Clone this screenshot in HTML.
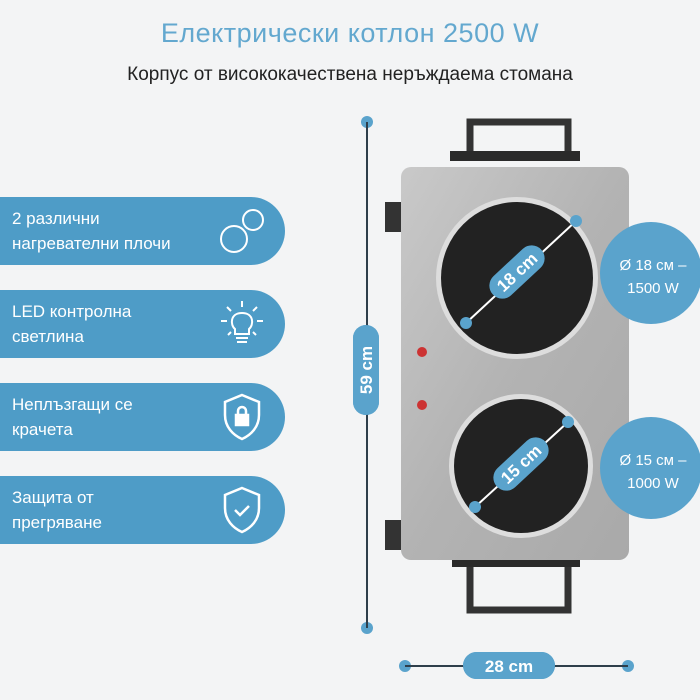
<!DOCTYPE html><html><head><meta charset="utf-8"><style>
body{margin:0;width:700px;height:700px;background:#f3f4f5;font-family:"Liberation Sans","DejaVu Sans",sans-serif;position:relative;overflow:hidden}
.t{position:absolute;left:0;width:700px;text-align:center}
.p{position:absolute;left:0;width:285px;height:68px;background:#4e9cc7;border-radius:0 34px 34px 0;color:#fff;font-size:17px;line-height:25px;box-sizing:border-box;padding:9px 0 0 12px}
.p svg{position:absolute;right:18px;top:9px}
</style></head><body>
<div class="t" style="top:18px;font-size:27px;color:#63a8cf;letter-spacing:0.5px">Електрически котлон 2500 W</div>
<div class="t" style="top:64px;font-size:19px;color:#222">Корпус от висококачествена неръждаема стомана</div>
<div class="p" style="top:197px">2 различни<br>нагревателни плочи<svg width="50" height="50" viewBox="0 0 50 50" fill="none" stroke="#fff" stroke-width="2"><circle cx="17" cy="33" r="13"/><circle cx="36" cy="14" r="10"/></svg></div>
<div class="p" style="top:290px">LED контролна<br>светлина<svg width="50" height="50" viewBox="0 0 50 50" fill="none" stroke="#fff" stroke-width="2"><path d="M18 30c-5-4-5-16 7-16s12 12 7 16v5H18z"/><path d="M19 39h12M20 43h10M25 2v6M10 8l4 4M40 8l-4 4M4 22h6M40 22h6M11 36l3-3M39 36l-3-3"/></svg></div>
<div class="p" style="top:383px">Неплъзгащи се<br>крачета<svg width="50" height="50" viewBox="0 0 50 50" fill="none" stroke="#fff" stroke-width="2.5"><path d="M25 3l17 7v13c0 12-8 20-17 24C16 43 8 35 8 23V10z"/><rect x="19" y="23" width="12" height="10" fill="#fff"/><path d="M21 23v-4a4 4 0 0 1 8 0v4"/></svg></div>
<div class="p" style="top:476px">Защита от<br>прегряване<svg width="50" height="50" viewBox="0 0 50 50" fill="none" stroke="#fff" stroke-width="2.5"><path d="M25 3l17 7v13c0 12-8 20-17 24C16 43 8 35 8 23V10z"/><path d="M18 25l5 5 9-9"/></svg></div>
<svg width="700" height="700" style="position:absolute;left:0;top:0">
<g fill="none" stroke="#333" stroke-width="7"><path d="M470 155V122h98v33"/><path d="M470 560v50h98v-50"/></g>
<rect x="450" y="151" width="130" height="10" fill="#2a2a2a"/><rect x="452" y="557" width="128" height="10" fill="#2a2a2a"/>
<rect x="385" y="202" width="20" height="30" fill="#333"/><rect x="385" y="520" width="20" height="30" fill="#333"/>
<defs><linearGradient id="g" x1="0" x2="1" y1="0" y2="1"><stop offset="0" stop-color="#c9c9c9"/><stop offset=".5" stop-color="#b3b3b3"/><stop offset="1" stop-color="#a9a9a9"/></linearGradient></defs>
<rect x="401" y="167" width="228" height="393" rx="10" fill="url(#g)"/>
<circle cx="517" cy="278" r="81" fill="#ddd"/><circle cx="517" cy="278" r="76" fill="#222"/>
<circle cx="521" cy="466" r="72" fill="#ddd"/><circle cx="521" cy="466" r="67" fill="#222"/>
<circle cx="422" cy="352" r="5" fill="#c33"/><circle cx="422" cy="405" r="5" fill="#c33"/>
<g stroke="#fff" stroke-width="2"><line x1="576" y1="221" x2="466" y2="323"/><line x1="568" y1="422" x2="475" y2="507"/></g>
<g fill="#5aa3cc"><circle cx="576" cy="221" r="6"/><circle cx="466" cy="323" r="6"/><circle cx="568" cy="422" r="6"/><circle cx="475" cy="507" r="6"/>
<rect x="484" y="259" width="66" height="26" rx="13" transform="rotate(-43 517 272)"/>
<rect x="488" y="451" width="66" height="26" rx="13" transform="rotate(-43 521 464)"/>
<circle cx="651" cy="273" r="51"/><circle cx="651" cy="468" r="51"/>
<circle cx="367" cy="122" r="6"/><circle cx="367" cy="628" r="6"/><circle cx="405" cy="666" r="6"/><circle cx="628" cy="666" r="6"/>
<rect x="353" y="325" width="26" height="90" rx="13"/><rect x="463" y="652" width="92" height="27" rx="13.5"/></g>
<g stroke="#2e3e4a" stroke-width="2"><line x1="367" y1="122" x2="367" y2="628"/><line x1="405" y1="666" x2="628" y2="666"/></g>
<rect x="353" y="325" width="26" height="90" rx="13" fill="#5aa3cc"/><rect x="463" y="652" width="92" height="27" rx="13.5" fill="#5aa3cc"/>
<g fill="#fff" font-weight="bold" font-size="17" text-anchor="middle">
<text x="517" y="278" transform="rotate(-43 517 272)">18 cm</text>
<text x="521" y="470" transform="rotate(-43 521 464)">15 cm</text>
<text x="372" y="370" transform="rotate(-90 372 370)" dy="0">59 cm</text>
<text x="509" y="672">28 cm</text></g>
<g fill="#fff" font-size="15" text-anchor="middle"><text x="653" y="270">Ø 18 см –</text><text x="653" y="293">1500 W</text><text x="653" y="465">Ø 15 см –</text><text x="653" y="488">1000 W</text></g>
</svg>
</body></html>
